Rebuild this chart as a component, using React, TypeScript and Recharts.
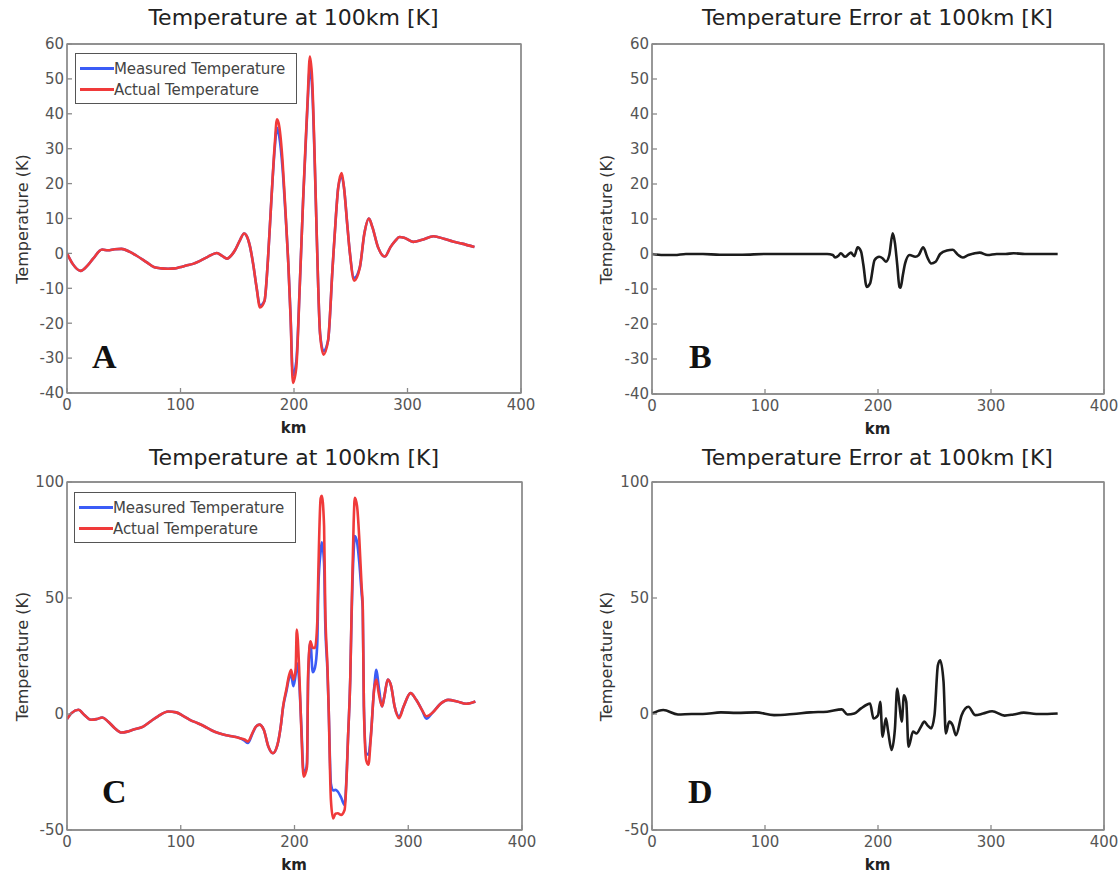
import React from 'react';
import { LineChart, Line, XAxis, YAxis, Legend, Label, ReferenceArea } from 'recharts';

const FONT = '"DejaVu Sans", Verdana, sans-serif';

const xTicks = [0, 100, 200, 300, 400];
const yTicksTop = [-40, -30, -20, -10, 0, 10, 20, 30, 40, 50, 60];
const yTicksBottom = [-50, 0, 50, 100];

const kmA = [0, 5, 12, 18, 23, 31, 36, 42, 48, 55,
  61, 70, 77, 83, 89, 95, 99, 105, 111, 118,
  124, 132, 137, 141, 145, 148, 152, 156, 159, 161,
  164, 167, 170, 174, 177, 180, 183, 185, 187, 190,
  192, 195, 197, 199, 202, 205, 208, 210, 212, 214,
  216, 218, 220, 223, 226, 230, 234, 237, 239, 242,
  244, 247, 249, 253, 258, 262, 266, 269, 274, 280,
  285, 289, 293, 297, 305, 313, 323, 332, 340, 348,
  359];
const actualA = [0, -3, -5, -3.5, -1.5, 1.1, 0.9, 1.2, 1.3, 0.5,
  -0.6, -2.5, -4, -4.3, -4.4, -4.3, -4, -3.5, -3, -2,
  -1, 0.1, -0.8, -1.5, -0.5, 0.9, 3.5, 5.7, 4.5, 2.3,
  -3, -9.7, -15.5, -13.6, -2, 15, 31, 38.4, 36.4, 26,
  15, -3, -18.4, -37.1, -32.8, -10, 15, 30, 44, 56.4,
  50, 30, 5.7, -23.2, -29, -25, -4, 11, 19, 23,
  19, 8, 0.9, -7.8, -4, 5.7, 10, 7.6, 1.8, -0.9,
  1.8, 3.5, 4.7, 4.5, 3.3, 3.9, 4.9, 4.2, 3.4, 2.8,
  1.8];
const measuredA = [0, -3, -5, -3.5, -1.5, 1.1, 0.9, 1.2, 1.3, 0.5,
  -0.6, -2.5, -4, -4.3, -4.4, -4.3, -4, -3.5, -3, -2,
  -1, 0.1, -0.8, -1.5, -0.5, 0.9, 3.5, 5.7, 4.5, 2.3,
  -3, -9.7, -15, -13.6, -2, 15, 30, 36, 33.5, 24,
  14, -3, -18, -35, -31, -10, 15, 29, 43, 53,
  47.5, 29, 5.7, -23, -28, -25, -4, 11, 19, 22,
  19, 8, 0.9, -7, -4, 5.7, 10, 7.6, 1.8, -0.9,
  1.8, 3.5, 4.7, 4.5, 3.3, 3.9, 4.9, 4.2, 3.4, 2.8,
  1.8];

const kmB = [0, 10, 20, 30, 45, 60, 80, 100, 120, 140,
  155, 160, 162, 165, 167, 171, 176, 179, 182, 185,
  187, 190, 193, 197, 201, 204, 207, 210, 213, 215,
  217, 219, 220, 222, 224, 228, 233, 236, 240, 244,
  247, 251, 255, 261, 266, 271, 275, 280, 290, 297,
  305, 313, 320, 330, 340, 350, 359];
const errB = [0, -0.3, -0.3, 0, 0, -0.2, -0.2, 0, 0, 0,
  0, -0.3, -1, -0.5, 0.2, -0.8, 0.4, -0.6, 1.9, 0.7,
  -3, -9.4, -8.4, -1.7, -0.8, -1.2, -2.2, -0.3, 5.9, 3.1,
  -3, -9.4, -9.6, -6, -2.7, -0.3, -0.8, -0.3, 1.9, -1.2,
  -2.7, -2.2, 0, 1, 1.2, -0.3, -1, -0.3, 0.4, -0.3,
  0, 0, 0.2, 0, 0, 0, 0];

const kmC = [0, 4, 10, 15, 21, 26, 31, 36, 42, 48,
  53, 58, 67, 74, 80, 89, 96, 102, 108, 115,
  121, 127, 133, 140, 146, 152, 156, 159, 163, 166,
  169, 173, 177, 181, 185, 188, 190, 193, 195, 197,
  199, 201, 202, 204, 206, 208, 210, 211, 212, 214,
  216, 218, 220, 221, 223, 224, 226, 227, 229, 230,
  232, 234, 236, 238, 241, 244, 246, 247, 249, 250,
  252, 253, 255, 257, 259, 260, 261, 263, 265, 267,
  270, 272, 274, 277, 279, 282, 285, 288, 292, 296,
  302, 307, 312, 316, 321, 329, 335, 343, 351, 359];
const actualC = [-2.2, 0.4, 1.8, -0.3, -2.5, -2.2, -1.5, -3.2, -6.1, -8,
  -7.6, -6.8, -5.4, -3, -1, 1.1, 0.7, -0.8, -2.5, -4,
  -5.4, -7, -8.2, -9.2, -9.7, -10.4, -11, -11.8, -8.2, -5.5,
  -4.6, -6.8, -14, -16.9, -13.3, -5, 3.3, 11, 16.2, 19.1,
  14.8, 19.1, 36.4, 20.6, -6.8, -27, -25, -22.6, 17.7, 31.3,
  28.5, 28.5, 39.3, 62, 93, 94, 81, 46.5, 20, 3.3,
  -37, -45, -43, -42.8, -43.5, -41.4, -25, -11, 15, 39.3,
  82.4, 93.2, 89.6, 75.2, 55, 46.5, 3.3, -19.8, -21.9, -11,
  10.5, 14.8, 9, 3.3, 7.6, 14.8, 11.9, 3.3, -1.8, 3.3,
  9, 6.1, 1.8, -1, 0.4, 4.7, 6.1, 5.4, 4.4, 5.4];
const measuredC = [-2.2, 0.4, 1.8, -0.3, -2.5, -2.2, -1.5, -3.2, -6.1, -8,
  -7.6, -6.8, -5.4, -3, -1, 1.1, 0.7, -0.8, -2.5, -4,
  -5.4, -7, -8.2, -9.2, -9.7, -10.4, -11.5, -12.5, -8.5, -5.5,
  -4.6, -6.8, -14, -16.9, -13.3, -5, 3, 10, 15, 17,
  12, 17, 22, 15, -5, -25, -24, -21, 15, 31,
  18, 20, 30, 55, 70, 74, 65, 40, 18, 3,
  -30, -33, -32.7, -33.4, -36, -39.2, -24, -11, 15, 38,
  70, 76.7, 74, 65, 52, 45, 3.3, -17, -17.5, -10,
  11, 19, 12, 3.3, 7.6, 14.8, 11.9, 3.3, -1, 3.3,
  9, 6.1, 1.8, -2, 0.4, 4.7, 6.1, 5.4, 4.4, 5.4];

const kmD = [0, 10, 23, 35, 45, 61, 75, 92, 108, 125,
  140, 155, 168, 173, 179, 185, 190, 193, 196, 200,
  202, 204, 207, 209, 212, 215, 217, 219, 221, 223,
  225, 227, 231, 234, 238, 241, 244, 247, 250, 253,
  255, 258, 260, 263, 266, 269, 274, 280, 286, 293,
  301, 312, 320, 329, 340, 350, 359];
const errD = [0.2, 1.7, -0.2, 0, 0, 0.7, 0.5, 0.7, -0.5, 0,
  0.7, 1, 2, -0.2, 0.2, 2.4, 4, 4.5, -1.9, -0.5,
  5.3, -9.8, -1.9, -7.6, -15.5, -6.2, 11, 3.8, -3.3, 8.1,
  5.3, -14.1, -7.6, -8.4, -5.5, -3.3, -5, -6.2, -0.5, 21,
  23.2, 13.9, -8.4, -3.3, -4.8, -9.1, -0.5, 3.1, -0.5, 0.2,
  1.2, -0.7, -0.2, 0.6, 0, 0, 0.2];

function toRows(km: number[], cols: Record<string, number[]>) {
  return km.map((k, i) => {
    const row: Record<string, number> = { km: k };
    Object.keys(cols).forEach((c) => { row[c] = cols[c][i]; });
    return row;
  });
}

type LineSpec = { key: string; name: string; color: string };

const RED = '#f03a3a';
const BLUE = '#3b5cf6';
const BLACK = '#1c1c1c';

const legendOrder = ['Measured Temperature', 'Actual Temperature'];

type PanelProps = {
  box: { left: number; top: number; width: number; height: number };
  plot: { l: number; r: number; t: number; b: number };
  rows: Record<string, number>[];
  lines: LineSpec[];
  title: string;
  titleTop: number;
  letter: string;
  letterPos: { x: number; baseline: number };
  legend?: { left: number; top: number };
  yDomain: [number, number];
  yTicks: number[];
  yLabelX: number;
};

function LegendBox(props: any) {
  const payload = ((props && props.payload) || []).slice().sort(
    (a: any, b: any) => legendOrder.indexOf(a.value) - legendOrder.indexOf(b.value));
  return (
    <div style={{ border: '1.5px solid #555', background: '#fff', width: 222, height: 51, boxSizing: 'border-box', paddingTop: 4, fontFamily: FONT }}>
      {payload.map((e: any, i: number) => (
        <div key={i} style={{ display: 'flex', alignItems: 'center', height: 21, whiteSpace: 'nowrap' }}>
          <div style={{ marginLeft: 4, width: 34, height: 3, background: e.color }} />
          <span style={{ fontSize: 15, color: '#444', letterSpacing: -0.1 }}>{e.value}</span>
        </div>
      ))}
    </div>
  );
}

function Panel(p: PanelProps) {
  const margin = { top: p.plot.t - 1, right: p.box.width - p.plot.r - 1, left: 0, bottom: 0 };
  const xh = p.box.height - p.plot.b;
  const cy = (p.plot.t + p.plot.b) / 2;
  const cx = (p.plot.l + p.plot.r) / 2;
  const frame = { stroke: '#8a8a8a', strokeWidth: 1.3 };
  const tickStyle = { fill: '#555', fontSize: 15, fontFamily: FONT };
  return (
    <div style={{ position: 'absolute', left: p.box.left, top: p.box.top, width: p.box.width, height: p.box.height }}>
      <div style={{ position: 'absolute', left: p.plot.l - 150, width: p.plot.r - p.plot.l + 300, top: p.titleTop, textAlign: 'center', fontFamily: FONT, fontSize: 22, lineHeight: '24px', color: '#222', whiteSpace: 'nowrap' }}>{p.title}</div>
      <LineChart width={p.box.width} height={p.box.height} data={p.rows} margin={margin}>
        <XAxis xAxisId="b" dataKey="km" type="number" domain={[0, 400]} ticks={xTicks} interval={0} height={xh}
          axisLine={frame} tickLine={frame} tickSize={-5} tickMargin={11} tick={tickStyle} allowDataOverflow>
          <Label content={() => (
            <text x={cx} y={p.plot.b + 40} textAnchor="middle" fontFamily={FONT} fontSize={15} fontWeight="bold" fill="#222">km</text>
          )} />
        </XAxis>
        <XAxis xAxisId="t" orientation="top" dataKey="km" type="number" domain={[0, 400]} ticks={xTicks} interval={0} height={1}
          mirror axisLine={frame} tickLine={frame} tickSize={5} tick={false} allowDataOverflow />
        <YAxis yAxisId="l" type="number" domain={p.yDomain} ticks={p.yTicks} interval={0} width={p.plot.l}
          axisLine={frame} tickLine={frame} tickSize={-5} tickMargin={8} tick={tickStyle} allowDataOverflow>
          <Label content={() => (
            <text x={p.yLabelX} y={cy} transform={`rotate(-90 ${p.yLabelX} ${cy})`} textAnchor="middle" dominantBaseline="central"
              fontFamily={FONT} fontSize={16} fill="#333">Temperature (K)</text>
          )} />
        </YAxis>
        <YAxis yAxisId="r" orientation="right" type="number" domain={p.yDomain} ticks={p.yTicks} interval={0} width={1}
          mirror axisLine={frame} tickLine={frame} tickSize={5} tick={false} allowDataOverflow />
        <ReferenceArea xAxisId="b" yAxisId="l" x1={0} x2={400} y1={p.yDomain[0]} y2={p.yDomain[1]}
          fill="none" fillOpacity={0} stroke="#8a8a8a" strokeWidth={1.3} ifOverflow="visible" />
        {p.lines.map((l) => (
          <Line key={l.key} xAxisId="b" yAxisId="l" type="monotone" dataKey={l.key} name={l.name} stroke={l.color}
            strokeWidth={2.6} dot={false} isAnimationActive={false} strokeLinejoin="round" />
        ))}
        {p.legend && (
          <Legend layout="vertical" align="center" verticalAlign="middle" content={LegendBox}
            wrapperStyle={{ left: p.legend.left, top: p.legend.top, width: 222, height: 51 }} />
        )}
      </LineChart>
      <div style={{ position: 'absolute', left: p.letterPos.x, top: p.letterPos.baseline - 28, fontFamily: '"Liberation Serif", "Times New Roman", serif', fontSize: 34, fontWeight: 'bold', lineHeight: '34px', color: '#111' }}>{p.letter}</div>
    </div>
  );
}

const rowsA = toRows(kmA, { measured: measuredA, actual: actualA });
const rowsB = toRows(kmB, { err: errB });
const rowsC = toRows(kmC, { measured: measuredC, actual: actualC });
const rowsD = toRows(kmD, { err: errD });

const tempLines: LineSpec[] = [
  { key: 'measured', name: 'Measured Temperature', color: BLUE },
  { key: 'actual', name: 'Actual Temperature', color: RED },
];
const errLines: LineSpec[] = [{ key: 'err', name: 'Error', color: BLACK }];

export default function App() {
  return (
    <div style={{ position: 'absolute', left: 0, top: 0, width: 1119, height: 877, background: '#fff', overflow: 'hidden' }}>
      <Panel box={{ left: 0, top: 0, width: 560, height: 440 }} plot={{ l: 67, r: 520, t: 45, b: 393 }}
        rows={rowsA} lines={tempLines} title="Temperature at 100km [K]" titleTop={6}
        letter="A" letterPos={{ x: 92, baseline: 368 }} legend={{ left: 75, top: 53 }}
        yDomain={[-40, 60]} yTicks={yTicksTop} yLabelX={22} />
      <Panel box={{ left: 560, top: 0, width: 559, height: 440 }} plot={{ l: 92, r: 543, t: 45, b: 394 }}
        rows={rowsB} lines={errLines} title="Temperature Error at 100km [K]" titleTop={6}
        letter="B" letterPos={{ x: 129, baseline: 368 }}
        yDomain={[-40, 60]} yTicks={yTicksTop} yLabelX={46} />
      <Panel box={{ left: 0, top: 440, width: 560, height: 437 }} plot={{ l: 67, r: 521, t: 43, b: 390 }}
        rows={rowsC} lines={tempLines} title="Temperature at 100km [K]" titleTop={6}
        letter="C" letterPos={{ x: 102, baseline: 363 }} legend={{ left: 74, top: 52 }}
        yDomain={[-50, 100]} yTicks={yTicksBottom} yLabelX={22} />
      <Panel box={{ left: 560, top: 440, width: 559, height: 437 }} plot={{ l: 92, r: 543, t: 43, b: 390 }}
        rows={rowsD} lines={errLines} title="Temperature Error at 100km [K]" titleTop={6}
        letter="D" letterPos={{ x: 128, baseline: 363 }}
        yDomain={[-50, 100]} yTicks={yTicksBottom} yLabelX={46} />
    </div>
  );
}
